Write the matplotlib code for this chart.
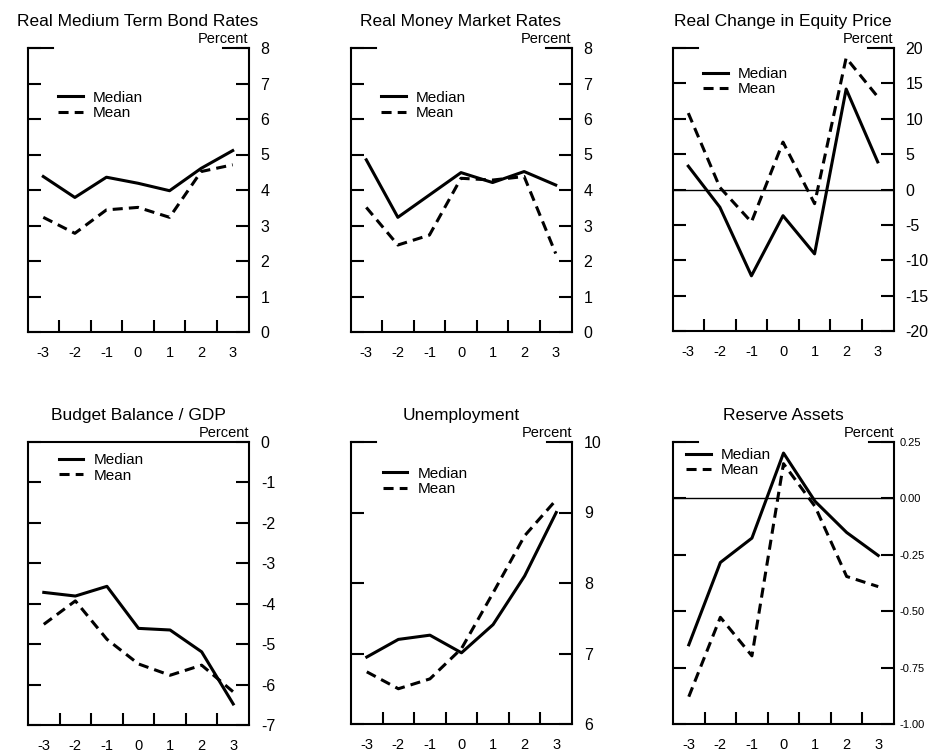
import matplotlib
matplotlib.use("Agg")
import matplotlib.pyplot as plt
from matplotlib.ticker import FormatStrFormatter

plt.rcParams["font.family"] = ["Liberation Sans", "DejaVu Sans"]
plt.rcParams["axes.unicode_minus"] = False

# years around the event
YEARS = [-3, -2, -1, 0, 1, 2, 3]

BOND_MEDIAN = [4.38, 3.79, 4.36, 4.19, 3.98, 4.61, 5.11]
BOND_MEAN = [3.23, 2.78, 3.44, 3.51, 3.23, 4.52, 4.71]

MONEY_MEDIAN = [4.85, 3.23, 3.86, 4.49, 4.21, 4.52, 4.14]
MONEY_MEAN = [3.51, 2.45, 2.73, 4.33, 4.28, 4.38, 2.21]

EQUITY_MEDIAN = [3.3, -2.5, -12.2, -3.7, -9.1, 14.2, 3.9]
EQUITY_MEAN = [10.8, 0.3, -4.6, 6.7, -2.0, 18.6, 13.1]

BUDGET_MEDIAN = [-3.72, -3.81, -3.57, -4.61, -4.65, -5.19, -6.48]
BUDGET_MEAN = [-4.51, -3.93, -4.88, -5.49, -5.77, -5.52, -6.18]

UNEMP_MEDIAN = [6.95, 7.20, 7.26, 7.01, 7.41, 8.10, 9.00]
UNEMP_MEAN = [6.74, 6.50, 6.64, 7.07, 7.86, 8.67, 9.18]

RESERVE_MEDIAN = [-0.649, -0.284, -0.176, 0.201, -0.013, -0.151, -0.253]
RESERVE_MEAN = [-0.879, -0.527, -0.698, 0.154, -0.036, -0.346, -0.391]

BLACK = "black"
LW = 2.2
SPINE_W = 1.5


def draw_panel(ax, title, median, mean, ylo, yhi, ystep, fmt,
               zero_line=False, legend_at=(0.14, 0.85), full_top=False,
               tick_size=11.5, tick_pad=8.5):
    ax.plot(YEARS, median, color=BLACK, lw=LW, label="Median")
    ax.plot(YEARS, mean, color=BLACK, lw=LW, ls=(0, (3.3, 2.0)), label="Mean")
    if zero_line:
        ax.axhline(0, color=BLACK, lw=1.0)

    ax.set_xlim(-3.5, 3.5)
    ax.set_ylim(ylo, yhi)

    ax.set_xticks(YEARS)
    ax.set_xticks([y + 0.5 for y in YEARS[:-1]], minor=True)
    ax.tick_params(axis="x", which="major", length=0, labelsize=10.5, pad=10)
    ax.tick_params(axis="x", which="minor", direction="in", length=8.6,
                   width=SPINE_W, bottom=True, top=False)

    n = int(round((yhi - ylo) / ystep))
    ax.set_yticks([ylo + i * ystep for i in range(n + 1)])
    ax.yaxis.set_major_formatter(FormatStrFormatter(fmt))
    ax.tick_params(axis="y", which="major", direction="in", left=True,
                   right=True, labelleft=False, labelright=True, length=9.5,
                   width=SPINE_W, labelsize=tick_size, pad=tick_pad)

    for side in ("left", "right", "bottom"):
        ax.spines[side].set_linewidth(SPINE_W)
    if full_top:
        ax.spines["top"].set_linewidth(SPINE_W)
    else:
        # the frame top is only drawn near the two corners
        ax.spines["top"].set_visible(False)
        ax.axhline(yhi, xmin=0, xmax=0.115, color=BLACK, lw=SPINE_W, clip_on=False)
        ax.axhline(yhi, xmin=0.885, xmax=1, color=BLACK, lw=SPINE_W, clip_on=False)

    ax.set_title(title, fontsize=12.5, pad=15.5)
    ax.text(1.0, 1.018, "Percent", transform=ax.transAxes, ha="right",
            va="baseline", fontsize=10.5)

    ax.legend(loc="upper left", bbox_to_anchor=legend_at, frameon=False,
              fontsize=11, handlelength=1.6, handletextpad=0.65,
              labelspacing=0.1, borderpad=0, borderaxespad=0)


fig = plt.figure(figsize=(9.31, 7.52), dpi=100)
W, H = 931, 752


def add_axes(left_px, top_px, bottom_px, width_px=221):
    return fig.add_axes([left_px / W, (H - bottom_px) / H,
                         width_px / W, (bottom_px - top_px) / H])


ax1 = add_axes(27.5, 48, 332)
ax2 = add_axes(350.5, 48, 332)
ax3 = add_axes(672.5, 48, 331)
ax4 = add_axes(28, 442, 725)
ax5 = add_axes(351, 442, 724)
ax6 = add_axes(673, 442, 724)

draw_panel(ax1, "Real Medium Term Bond Rates", BOND_MEDIAN, BOND_MEAN,
           0, 8, 1, "%d", legend_at=(0.14, 0.85))
draw_panel(ax2, "Real Money Market Rates", MONEY_MEDIAN, MONEY_MEAN,
           0, 8, 1, "%d", legend_at=(0.14, 0.85))
draw_panel(ax3, "Real Change in Equity Price", EQUITY_MEDIAN, EQUITY_MEAN,
           -20, 20, 5, "%d", zero_line=True, legend_at=(0.14, 0.933))
draw_panel(ax4, "Budget Balance / GDP", BUDGET_MEDIAN, BUDGET_MEAN,
           -7, 0, 1, "%d", legend_at=(0.14, 0.961), full_top=True)
draw_panel(ax5, "Unemployment", UNEMP_MEDIAN, UNEMP_MEAN,
           6, 10, 1, "%d", legend_at=(0.145, 0.912))
draw_panel(ax6, "Reserve Assets", RESERVE_MEDIAN, RESERVE_MEAN,
           -1.0, 0.25, 0.25, "%.2f", zero_line=True, legend_at=(0.06, 0.979),
           tick_size=8, tick_pad=4)

fig.savefig("out.png", dpi=100, facecolor="white")
plt.close(fig)
